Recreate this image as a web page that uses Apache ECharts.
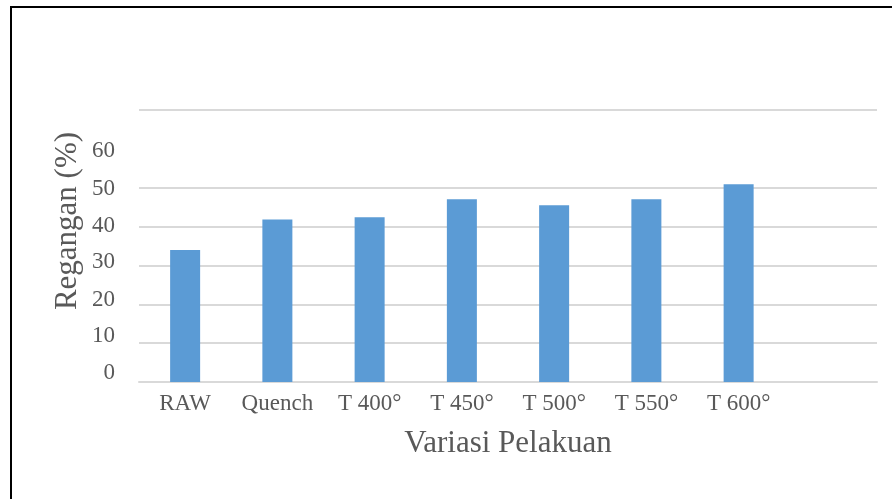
<!DOCTYPE html>
<html>
<head>
<meta charset="utf-8">
<script src="https://cdn.jsdelivr.net/npm/echarts@6/dist/echarts.min.js"></script>
<style>
  html, body { margin: 0; padding: 0; background: #fff; }
  #chart { width: 892px; height: 499px; }
</style>
</head>
<body>
<div id="chart"></div>
<script>
const categories = ['RAW', 'Quench', 'T 400°', 'T 450°', 'T 500°', 'T 550°', 'T 600°', ''];
const values = [34, 41.8, 42.4, 47, 45.5, 47, 50.9, null];
const yTicks = [0, 10, 20, 30, 40, 50, 60, 70];
const yTitle = 'Regangan (%)';
const xTitle = 'Variasi Pelakuan';

const textColor = '#595959';
const serif = '"Liberation Serif", "Times New Roman", serif';

// per-label vertical nudges (px, positive = up)
const labelShift = { 0: 9, 10: 7.5, 20: 4.5, 30: 3, 40: 1, 50: -1, 60: -2 };
const rich = {};
yTicks.forEach(v => {
  const s = labelShift[v] || 0;
  rich['l' + v] = {
    fontFamily: serif, fontSize: 23, color: textColor,
    padding: s >= 0 ? [0, 0, 2 * s, 0] : [-2 * s, 0, 0, 0]
  };
});

const chart = echarts.init(document.getElementById('chart'));
chart.setOption({
  animation: false,
  backgroundColor: '#ffffff',
  grid: { left: 139, right: 15, top: 110, bottom: 117 },
  xAxis: {
    type: 'category',
    data: categories,
    axisLine: { show: true, lineStyle: { color: '#d9d9d9', width: 2 } },
    axisTick: { show: false },
    axisLabel: { fontFamily: serif, fontSize: 23, color: textColor, margin: 10, interval: 0 },
    name: xTitle,
    nameLocation: 'middle',
    nameGap: 46,
    nameTextStyle: { fontFamily: serif, fontSize: 31, color: textColor }
  },
  yAxis: {
    type: 'value',
    min: 0, max: 70, interval: 10,
    axisLine: { show: false },
    axisTick: { show: false },
    splitLine: {
      show: true,
      lineStyle: {
        width: 2,
        color: ['#d9d9d9', '#d9d9d9', '#d9d9d9', '#d9d9d9', '#d9d9d9', '#d9d9d9', 'rgba(0,0,0,0)', '#d9d9d9']
      }
    },
    axisLabel: {
      margin: 24,
      formatter: v => (v === 70 ? '' : '{l' + v + '|' + v + '}'),
      rich: rich
    }
  },
  series: [{
    type: 'bar',
    data: values,
    barWidth: 30,
    itemStyle: { color: '#5B9BD5' }
  }],
  graphic: [
    { type: 'line', shape: { x1: 10, y1: 7, x2: 892, y2: 7 }, style: { stroke: '#000', lineWidth: 2 } },
    { type: 'line', shape: { x1: 11, y1: 6, x2: 11, y2: 499 }, style: { stroke: '#000', lineWidth: 2 } },
    {
      type: 'text', x: 68, y: 221, rotation: Math.PI / 2,
      style: { text: yTitle, font: '31px ' + serif, fill: textColor, align: 'center', verticalAlign: 'middle' }
    }
  ]
});
</script>
</body>
</html>
